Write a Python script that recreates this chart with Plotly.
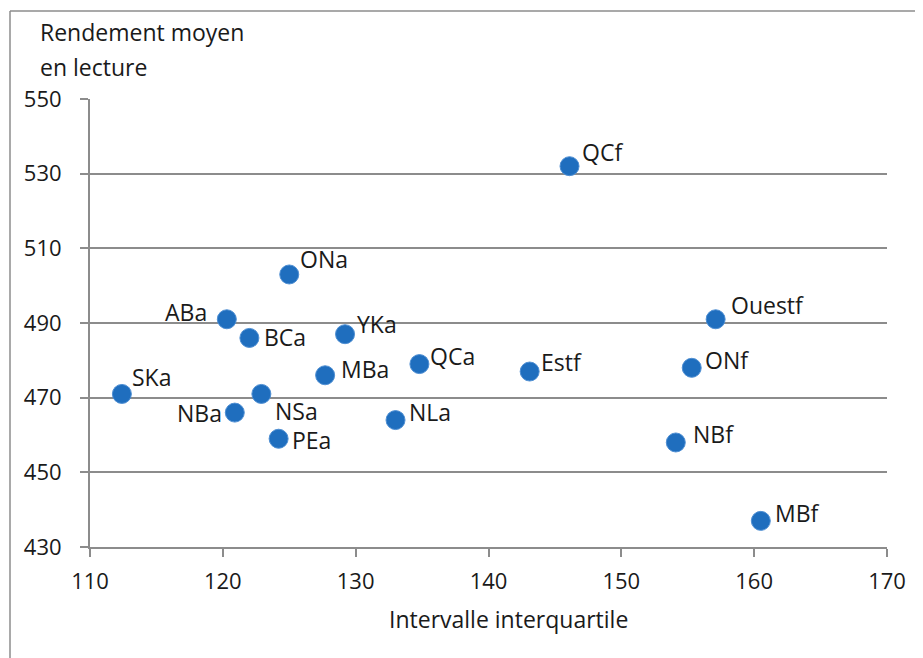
import plotly.graph_objects as go

# Data
provinces = ["SKa", "NBa", "ABa", "BCa", "NSa", "PEa", "ONa", "MBa", "YKa", "NLa",
             "QCa", "Estf", "QCf", "NBf", "ONf", "Ouestf", "MBf"]
interquartile = [112.4, 120.9, 120.3, 122.0, 122.9, 124.2, 125.0, 127.7, 129.2, 133.0,
                 134.8, 143.1, 146.1, 154.1, 155.3, 157.1, 160.5]
reading_mean = [471, 466, 491, 486, 471, 459, 503, 476, 487, 464,
                479, 477, 532, 458, 478, 491, 437]

x_ticks = [110, 120, 130, 140, 150, 160, 170]
y_ticks = [430, 450, 470, 490, 510, 530, 550]

# Label placement (anchor, x shift px, y shift px)
label_pos = {
    "SKa": ("left", 8, 17), "NBa": ("right", -11, 0), "ABa": ("right", -18, 7),
    "BCa": ("left", 13, 1), "NSa": ("left", 12, -17), "PEa": ("left", 11, -1),
    "ONa": ("left", 9, 15), "MBa": ("left", 14, 6), "YKa": ("left", 10, 10),
    "NLa": ("left", 11, 8), "QCa": ("left", 9, 8), "Estf": ("left", 9, 10),
    "QCf": ("left", 10, 14), "NBf": ("left", 15, 8), "ONf": ("left", 11, 8),
    "Ouestf": ("left", 13, 14), "MBf": ("left", 12, 8),
}

FONT = "Open Sans"
TXT = "#1a1a1a"


def px(xp):  # page x -> paper
    return (xp - 90) / 797


def py(yp):  # page y -> paper
    return (547 - yp) / 448


fig = go.Figure()
fig.add_trace(go.Scatter(
    x=interquartile, y=reading_mean, mode="markers",
    marker=dict(size=19, color="#1F6EBE", line=dict(color="#4F8FD3", width=1)),
    hoverinfo="text", text=provinces, showlegend=False,
))

annotations = []
for name, xv, yv in zip(provinces, interquartile, reading_mean):
    anchor, dx, dy = label_pos[name]
    annotations.append(dict(
        x=xv, y=yv, xref="x", yref="y", text=name, showarrow=False,
        xanchor=anchor, yanchor="middle", xshift=dx, yshift=dy,
        font=dict(family=FONT, size=23, color=TXT),
    ))

for txt, ycen in (("Rendement moyen", 32), ("en lecture", 67)):
    annotations.append(dict(
        x=px(38), y=py(ycen), xref="paper", yref="paper",
        xanchor="left", yanchor="middle", showarrow=False,
        text=txt, font=dict(family=FONT, size=23, color=TXT),
    ))
annotations.append(dict(
    x=px(508), y=py(619), xref="paper", yref="paper",
    xanchor="center", yanchor="middle", showarrow=False,
    text="Intervalle interquartile",
    font=dict(family=FONT, size=23, color=TXT),
))

shapes = [
    dict(type="line", xref="paper", yref="paper",
         x0=px(10), x1=px(10), y0=py(11), y1=py(700),
         line=dict(color="#8c8c8c", width=1.5)),
    dict(type="line", xref="paper", yref="paper",
         x0=px(10), x1=px(940), y0=py(11), y1=py(11),
         line=dict(color="#8c8c8c", width=1.5)),
]

axis_common = dict(
    showline=True, linecolor="#8c8c8c", linewidth=2,
    ticks="outside", ticklen=8, tickcolor="#8c8c8c", tickwidth=2,
    tickfont=dict(family=FONT, size=22, color=TXT),
    zeroline=False,
)

fig.update_layout(
    width=915, height=650,
    margin=dict(l=82, r=36, t=91, b=111),
    paper_bgcolor="white", plot_bgcolor="white",
    xaxis=dict(range=[110, 170], tickvals=x_ticks, showgrid=False,
               ticklabelstandoff=6, **axis_common),
    yaxis=dict(range=[430, 550], tickvals=y_ticks, showgrid=True,
               gridcolor="#8c8c8c", gridwidth=2, ticklabelstandoff=14, **axis_common),
    annotations=annotations, shapes=shapes,
)

fig.write_html("out.html")
